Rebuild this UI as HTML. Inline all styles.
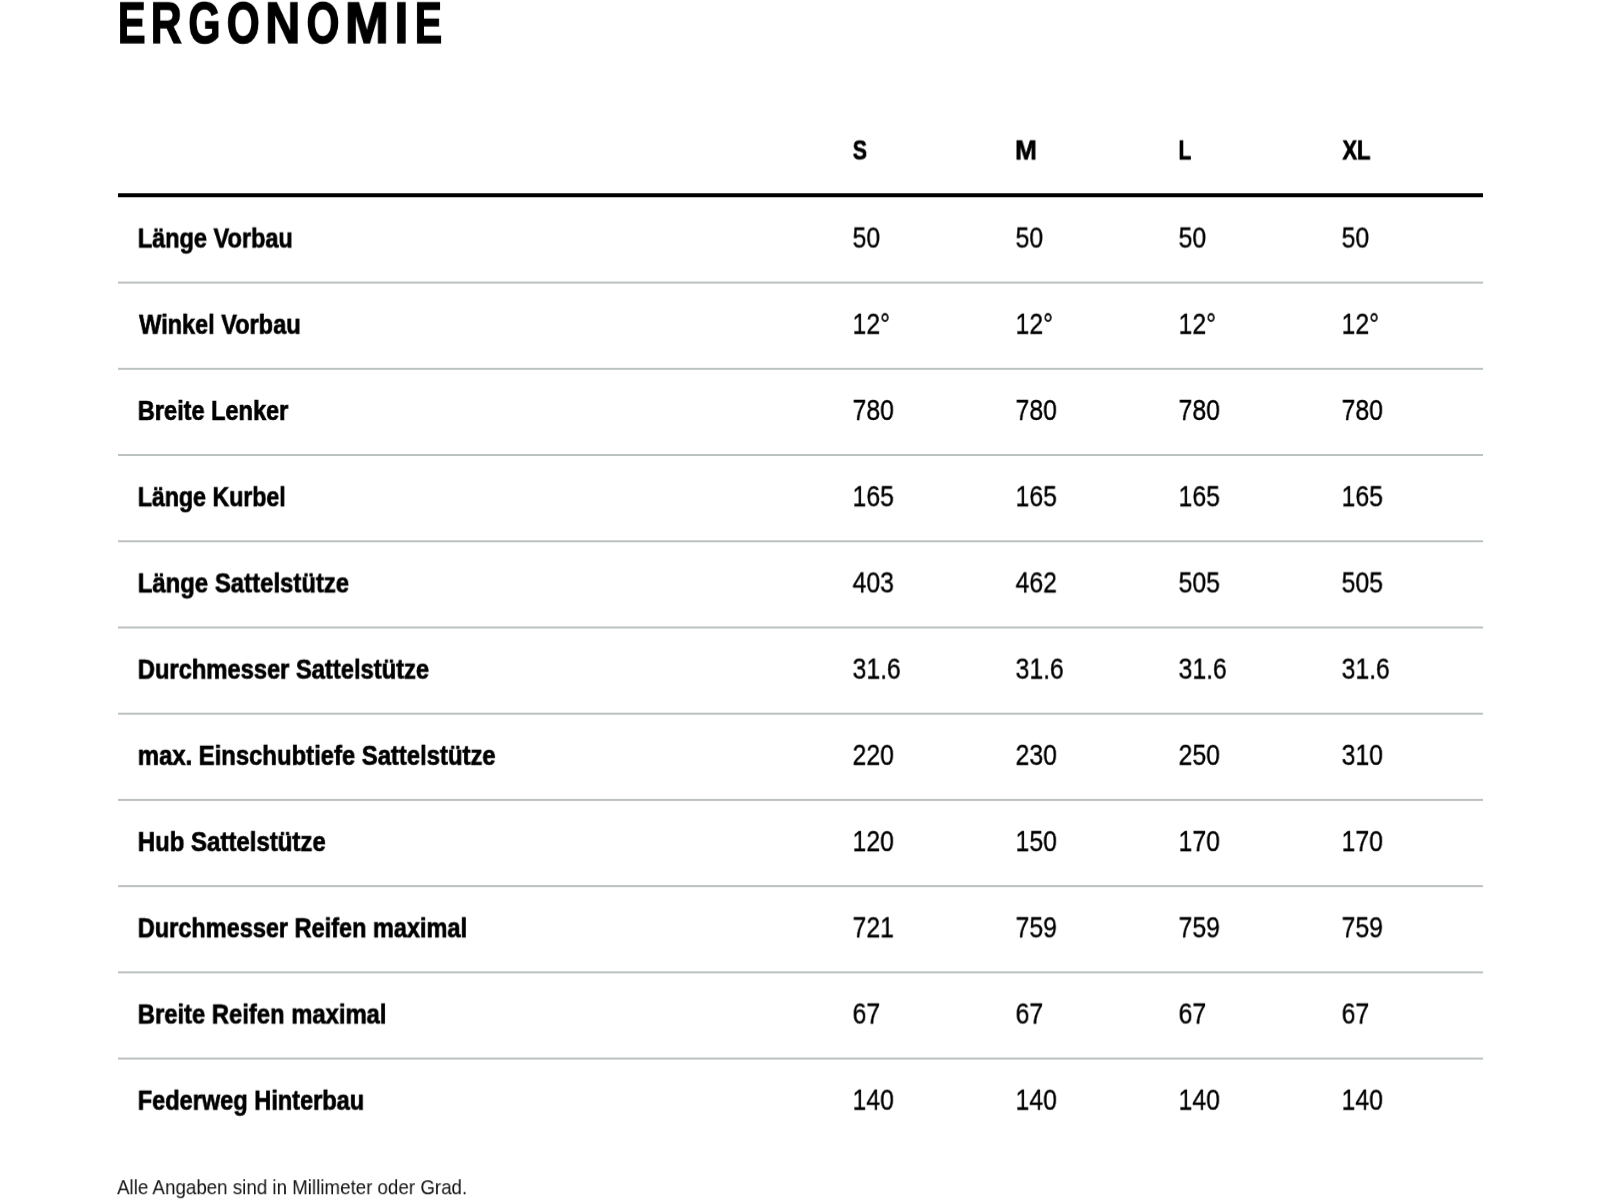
<!DOCTYPE html>
<html><head><meta charset="utf-8"><title>Ergonomie</title><style>
html,body{margin:0;padding:0;background:#fff;width:1600px;height:1200px;overflow:hidden;position:relative}
.t{position:absolute;left:0;top:0;white-space:nowrap;font-family:"Liberation Sans",sans-serif;line-height:1;transform-origin:0 0;color:#000;will-change:transform}
.ln{position:absolute;top:0;left:118px;width:1365px;will-change:transform}
#w{position:absolute;left:0;top:0;width:1600px;height:1200px;}
</style></head><body><div id="w">
<div class="ln" style="height:3.75px;transform:translateY(193.25px);background:#000"></div>
<div class="ln" style="height:1.6px;transform:translateY(281.60px);background:#bcc1c1"></div>
<div class="ln" style="height:1.6px;transform:translateY(367.82px);background:#bcc1c1"></div>
<div class="ln" style="height:1.6px;transform:translateY(454.04px);background:#bcc1c1"></div>
<div class="ln" style="height:1.6px;transform:translateY(540.26px);background:#bcc1c1"></div>
<div class="ln" style="height:1.6px;transform:translateY(626.48px);background:#bcc1c1"></div>
<div class="ln" style="height:1.6px;transform:translateY(712.70px);background:#bcc1c1"></div>
<div class="ln" style="height:1.6px;transform:translateY(798.92px);background:#bcc1c1"></div>
<div class="ln" style="height:1.6px;transform:translateY(885.14px);background:#bcc1c1"></div>
<div class="ln" style="height:1.6px;transform:translateY(971.36px);background:#bcc1c1"></div>
<div class="ln" style="height:1.6px;transform:translateY(1057.58px);background:#bcc1c1"></div>
<div class="t" style="font-size:58px;font-weight:700;transform:translate(117.75px,-6.23px) scaleX(0.7197);-webkit-text-stroke:1.5px #000;">E</div>
<div class="t" style="font-size:58px;font-weight:700;transform:translate(150.68px,-6.23px) scaleX(0.7407);-webkit-text-stroke:1.5px #000;">R</div>
<div class="t" style="font-size:58px;font-weight:700;transform:translate(188.32px,-6.23px) scaleX(0.7141);-webkit-text-stroke:1.5px #000;">G</div>
<div class="t" style="font-size:58px;font-weight:700;transform:translate(226.79px,-6.23px) scaleX(0.7308);-webkit-text-stroke:1.5px #000;">O</div>
<div class="t" style="font-size:58px;font-weight:700;transform:translate(265.18px,-6.23px) scaleX(0.8374);-webkit-text-stroke:1.5px #000;">N</div>
<div class="t" style="font-size:58px;font-weight:700;transform:translate(306.50px,-6.23px) scaleX(0.7284);-webkit-text-stroke:1.5px #000;">O</div>
<div class="t" style="font-size:58px;font-weight:700;transform:translate(344.86px,-6.23px) scaleX(0.9083);-webkit-text-stroke:1.5px #000;">M</div>
<div class="t" style="font-size:58px;font-weight:700;transform:translate(394.53px,-6.23px) scaleX(0.8524);-webkit-text-stroke:1.5px #000;">I</div>
<div class="t" style="font-size:58px;font-weight:700;transform:translate(414.68px,-6.23px) scaleX(0.7079);-webkit-text-stroke:1.5px #000;">E</div>
<div class="t" style="font-size:28.3px;font-weight:700;transform:translate(852.79px,135.45px) scaleX(0.7536);-webkit-text-stroke:0.7px #000;">S</div>
<div class="t" style="font-size:28.3px;font-weight:700;transform:translate(1015.12px,135.45px) scaleX(0.9253);-webkit-text-stroke:0.7px #000;">M</div>
<div class="t" style="font-size:28.3px;font-weight:700;transform:translate(1178.60px,135.45px) scaleX(0.7370);-webkit-text-stroke:0.7px #000;">L</div>
<div class="t" style="font-size:28.3px;font-weight:700;transform:translate(1342.46px,135.45px) scaleX(0.7765);-webkit-text-stroke:0.7px #000;">XL</div>
<div class="t" style="font-size:28.3px;font-weight:700;transform:translate(137.76px,223.55px) scaleX(0.8310);-webkit-text-stroke:0.7px #000;">Länge Vorbau</div>
<div class="t" style="font-size:28.3px;font-weight:700;transform:translate(139.18px,309.77px) scaleX(0.8310);-webkit-text-stroke:0.7px #000;">Winkel Vorbau</div>
<div class="t" style="font-size:28.3px;font-weight:700;transform:translate(137.76px,395.99px) scaleX(0.8327);-webkit-text-stroke:0.7px #000;">Breite Lenker</div>
<div class="t" style="font-size:28.3px;font-weight:700;transform:translate(137.78px,482.21px) scaleX(0.8181);-webkit-text-stroke:0.7px #000;">Länge Kurbel</div>
<div class="t" style="font-size:28.3px;font-weight:700;transform:translate(137.74px,568.43px) scaleX(0.8455);-webkit-text-stroke:0.7px #000;">Länge Sattelstütze</div>
<div class="t" style="font-size:28.3px;font-weight:700;transform:translate(137.75px,654.65px) scaleX(0.8383);-webkit-text-stroke:0.7px #000;">Durchmesser Sattelstütze</div>
<div class="t" style="font-size:28.3px;font-weight:700;transform:translate(137.75px,740.87px) scaleX(0.8429);-webkit-text-stroke:0.7px #000;">max. Einschubtiefe Sattelstütze</div>
<div class="t" style="font-size:28.3px;font-weight:700;transform:translate(137.74px,827.09px) scaleX(0.8481);-webkit-text-stroke:0.7px #000;">Hub Sattelstütze</div>
<div class="t" style="font-size:28.3px;font-weight:700;transform:translate(137.77px,913.31px) scaleX(0.8307);-webkit-text-stroke:0.7px #000;">Durchmesser Reifen maximal</div>
<div class="t" style="font-size:28.3px;font-weight:700;transform:translate(137.75px,999.53px) scaleX(0.8413);-webkit-text-stroke:0.7px #000;">Breite Reifen maximal</div>
<div class="t" style="font-size:28.3px;font-weight:700;transform:translate(137.76px,1085.75px) scaleX(0.8322);-webkit-text-stroke:0.7px #000;">Federweg Hinterbau</div>
<div class="t" style="font-size:29.2px;font-weight:400;transform:translate(852.56px,223.55px) scaleX(0.8479);-webkit-text-stroke:0.35px #000;">50</div>
<div class="t" style="font-size:29.2px;font-weight:400;transform:translate(1015.57px,223.55px) scaleX(0.8479);-webkit-text-stroke:0.35px #000;">50</div>
<div class="t" style="font-size:29.2px;font-weight:400;transform:translate(1178.59px,223.55px) scaleX(0.8479);-webkit-text-stroke:0.35px #000;">50</div>
<div class="t" style="font-size:29.2px;font-weight:400;transform:translate(1341.60px,223.55px) scaleX(0.8479);-webkit-text-stroke:0.35px #000;">50</div>
<div class="t" style="font-size:29.2px;font-weight:400;transform:translate(852.56px,309.77px) scaleX(0.8479);-webkit-text-stroke:0.35px #000;">12°</div>
<div class="t" style="font-size:29.2px;font-weight:400;transform:translate(1015.57px,309.77px) scaleX(0.8479);-webkit-text-stroke:0.35px #000;">12°</div>
<div class="t" style="font-size:29.2px;font-weight:400;transform:translate(1178.59px,309.77px) scaleX(0.8479);-webkit-text-stroke:0.35px #000;">12°</div>
<div class="t" style="font-size:29.2px;font-weight:400;transform:translate(1341.60px,309.77px) scaleX(0.8479);-webkit-text-stroke:0.35px #000;">12°</div>
<div class="t" style="font-size:29.2px;font-weight:400;transform:translate(852.56px,395.99px) scaleX(0.8479);-webkit-text-stroke:0.35px #000;">780</div>
<div class="t" style="font-size:29.2px;font-weight:400;transform:translate(1015.57px,395.99px) scaleX(0.8479);-webkit-text-stroke:0.35px #000;">780</div>
<div class="t" style="font-size:29.2px;font-weight:400;transform:translate(1178.59px,395.99px) scaleX(0.8479);-webkit-text-stroke:0.35px #000;">780</div>
<div class="t" style="font-size:29.2px;font-weight:400;transform:translate(1341.60px,395.99px) scaleX(0.8479);-webkit-text-stroke:0.35px #000;">780</div>
<div class="t" style="font-size:29.2px;font-weight:400;transform:translate(852.56px,482.21px) scaleX(0.8479);-webkit-text-stroke:0.35px #000;">165</div>
<div class="t" style="font-size:29.2px;font-weight:400;transform:translate(1015.57px,482.21px) scaleX(0.8479);-webkit-text-stroke:0.35px #000;">165</div>
<div class="t" style="font-size:29.2px;font-weight:400;transform:translate(1178.59px,482.21px) scaleX(0.8479);-webkit-text-stroke:0.35px #000;">165</div>
<div class="t" style="font-size:29.2px;font-weight:400;transform:translate(1341.60px,482.21px) scaleX(0.8479);-webkit-text-stroke:0.35px #000;">165</div>
<div class="t" style="font-size:29.2px;font-weight:400;transform:translate(852.56px,568.43px) scaleX(0.8479);-webkit-text-stroke:0.35px #000;">403</div>
<div class="t" style="font-size:29.2px;font-weight:400;transform:translate(1015.57px,568.43px) scaleX(0.8479);-webkit-text-stroke:0.35px #000;">462</div>
<div class="t" style="font-size:29.2px;font-weight:400;transform:translate(1178.59px,568.43px) scaleX(0.8479);-webkit-text-stroke:0.35px #000;">505</div>
<div class="t" style="font-size:29.2px;font-weight:400;transform:translate(1341.60px,568.43px) scaleX(0.8479);-webkit-text-stroke:0.35px #000;">505</div>
<div class="t" style="font-size:29.2px;font-weight:400;transform:translate(852.56px,654.65px) scaleX(0.8479);-webkit-text-stroke:0.35px #000;">31.6</div>
<div class="t" style="font-size:29.2px;font-weight:400;transform:translate(1015.57px,654.65px) scaleX(0.8479);-webkit-text-stroke:0.35px #000;">31.6</div>
<div class="t" style="font-size:29.2px;font-weight:400;transform:translate(1178.59px,654.65px) scaleX(0.8479);-webkit-text-stroke:0.35px #000;">31.6</div>
<div class="t" style="font-size:29.2px;font-weight:400;transform:translate(1341.60px,654.65px) scaleX(0.8479);-webkit-text-stroke:0.35px #000;">31.6</div>
<div class="t" style="font-size:29.2px;font-weight:400;transform:translate(852.56px,740.87px) scaleX(0.8479);-webkit-text-stroke:0.35px #000;">220</div>
<div class="t" style="font-size:29.2px;font-weight:400;transform:translate(1015.57px,740.87px) scaleX(0.8479);-webkit-text-stroke:0.35px #000;">230</div>
<div class="t" style="font-size:29.2px;font-weight:400;transform:translate(1178.59px,740.87px) scaleX(0.8479);-webkit-text-stroke:0.35px #000;">250</div>
<div class="t" style="font-size:29.2px;font-weight:400;transform:translate(1341.60px,740.87px) scaleX(0.8479);-webkit-text-stroke:0.35px #000;">310</div>
<div class="t" style="font-size:29.2px;font-weight:400;transform:translate(852.56px,827.09px) scaleX(0.8479);-webkit-text-stroke:0.35px #000;">120</div>
<div class="t" style="font-size:29.2px;font-weight:400;transform:translate(1015.57px,827.09px) scaleX(0.8479);-webkit-text-stroke:0.35px #000;">150</div>
<div class="t" style="font-size:29.2px;font-weight:400;transform:translate(1178.59px,827.09px) scaleX(0.8479);-webkit-text-stroke:0.35px #000;">170</div>
<div class="t" style="font-size:29.2px;font-weight:400;transform:translate(1341.60px,827.09px) scaleX(0.8479);-webkit-text-stroke:0.35px #000;">170</div>
<div class="t" style="font-size:29.2px;font-weight:400;transform:translate(852.56px,913.31px) scaleX(0.8479);-webkit-text-stroke:0.35px #000;">721</div>
<div class="t" style="font-size:29.2px;font-weight:400;transform:translate(1015.57px,913.31px) scaleX(0.8479);-webkit-text-stroke:0.35px #000;">759</div>
<div class="t" style="font-size:29.2px;font-weight:400;transform:translate(1178.59px,913.31px) scaleX(0.8479);-webkit-text-stroke:0.35px #000;">759</div>
<div class="t" style="font-size:29.2px;font-weight:400;transform:translate(1341.60px,913.31px) scaleX(0.8479);-webkit-text-stroke:0.35px #000;">759</div>
<div class="t" style="font-size:29.2px;font-weight:400;transform:translate(852.56px,999.53px) scaleX(0.8479);-webkit-text-stroke:0.35px #000;">67</div>
<div class="t" style="font-size:29.2px;font-weight:400;transform:translate(1015.57px,999.53px) scaleX(0.8479);-webkit-text-stroke:0.35px #000;">67</div>
<div class="t" style="font-size:29.2px;font-weight:400;transform:translate(1178.59px,999.53px) scaleX(0.8479);-webkit-text-stroke:0.35px #000;">67</div>
<div class="t" style="font-size:29.2px;font-weight:400;transform:translate(1341.60px,999.53px) scaleX(0.8479);-webkit-text-stroke:0.35px #000;">67</div>
<div class="t" style="font-size:29.2px;font-weight:400;transform:translate(852.56px,1085.75px) scaleX(0.8479);-webkit-text-stroke:0.35px #000;">140</div>
<div class="t" style="font-size:29.2px;font-weight:400;transform:translate(1015.57px,1085.75px) scaleX(0.8479);-webkit-text-stroke:0.35px #000;">140</div>
<div class="t" style="font-size:29.2px;font-weight:400;transform:translate(1178.59px,1085.75px) scaleX(0.8479);-webkit-text-stroke:0.35px #000;">140</div>
<div class="t" style="font-size:29.2px;font-weight:400;transform:translate(1341.60px,1085.75px) scaleX(0.8479);-webkit-text-stroke:0.35px #000;">140</div>
<div class="t" style="font-size:21.1px;font-weight:400;transform:translate(117.05px,1176.20px) scaleX(0.8888);color:#111;">Alle Angaben sind in Millimeter oder Grad.</div>
</div></body></html>
